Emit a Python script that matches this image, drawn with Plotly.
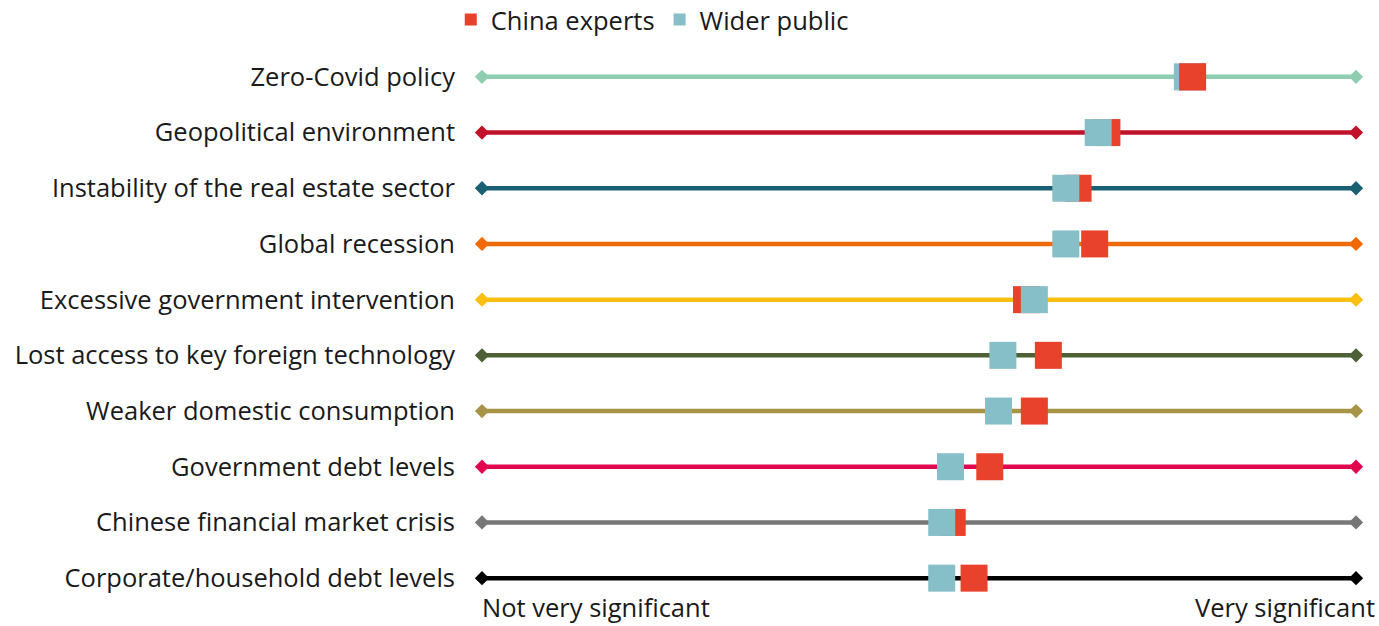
import plotly.graph_objects as go

categories = [
    "Zero-Covid policy",
    "Geopolitical environment",
    "Instability of the real estate sector",
    "Global recession",
    "Excessive government intervention",
    "Lost access to key foreign technology",
    "Weaker domestic consumption",
    "Government debt levels",
    "Chinese financial market crisis",
    "Corporate/household debt levels",
]
line_colors = ["#8fcdb0", "#c0132a", "#1a6073", "#f06a0c", "#fbbf10",
               "#4e6136", "#a89447", "#e0074f", "#777777", "#000000"]
china_experts = [0.813, 0.715, 0.682, 0.701, 0.623, 0.648, 0.632, 0.581, 0.538, 0.563]
wider_public = [0.807, 0.705, 0.668, 0.668, 0.632, 0.596, 0.591, 0.536, 0.526, 0.526]
# rows where the expert marker is drawn over the public marker
experts_on_top = ["Zero-Covid policy"]
scale_min, scale_max = 0.0, 1.0
scale_labels = ["Not very significant", "Very significant"]

RED = "#e8412c"
TEAL = "#86bfc8"
FONT = "Open Sans"
FS = 25.5

fig = go.Figure()

for cat, col in zip(categories, line_colors):
    fig.add_trace(go.Scatter(
        x=[scale_min, scale_max], y=[cat, cat], mode="lines+markers",
        line=dict(color=col, width=4.5),
        marker=dict(symbol="diamond", size=11, color=col),
        showlegend=False, hoverinfo="skip"))

fig.add_trace(go.Scatter(x=china_experts, y=categories, mode="markers",
                         marker=dict(symbol="square", size=27, color=RED),
                         name="China experts", showlegend=False))
fig.add_trace(go.Scatter(x=wider_public, y=categories, mode="markers",
                         marker=dict(symbol="square", size=27, color=TEAL),
                         name="Wider public", showlegend=False))
top_idx = [i for i, c in enumerate(categories) if c in experts_on_top]
fig.add_trace(go.Scatter(x=[china_experts[i] for i in top_idx],
                         y=[categories[i] for i in top_idx], mode="markers",
                         marker=dict(symbol="square", size=27, color=RED),
                         name="China experts", showlegend=False))

# legend entries
fig.add_trace(go.Scatter(x=[None], y=[None], mode="markers",
                         marker=dict(symbol="square", size=12, color=RED),
                         name="China experts"))
fig.add_trace(go.Scatter(x=[None], y=[None], mode="markers",
                         marker=dict(symbol="square", size=12, color=TEAL),
                         name="Wider public"))

fig.add_annotation(x=scale_min, y=-0.034, xref="x", yref="paper", text=scale_labels[0],
                   showarrow=False, xanchor="left", yanchor="bottom", xshift=-1,
                   borderpad=0, font=dict(size=FS, color="#1a1a1a", family=FONT))
fig.add_annotation(x=scale_max, y=-0.034, xref="x", yref="paper", text=scale_labels[1],
                   showarrow=False, xanchor="right", yanchor="bottom", xshift=20,
                   borderpad=0, font=dict(size=FS, color="#1a1a1a", family=FONT))

fig.update_layout(
    width=1379, height=626,
    margin=dict(l=470, r=11, t=49, b=20, autoexpand=False),
    paper_bgcolor="white", plot_bgcolor="white",
    font=dict(family=FONT, size=FS, color="#1a1a1a"),
    showlegend=True,
    legend=dict(orientation="h", x=0.473, xref="container", xanchor="center",
                y=0.968, yref="container", yanchor="middle",
                font=dict(size=FS, family=FONT), itemwidth=30,
                tracegroupgap=0, bgcolor="rgba(0,0,0,0)"),
    xaxis=dict(range=[-0.01373, 1.01373], showgrid=False, zeroline=False,
               showticklabels=False, showline=False, fixedrange=True),
    yaxis=dict(type="category", categoryorder="array", categoryarray=categories,
               range=[len(categories) - 0.5, -0.5], showgrid=False, zeroline=False,
               showline=False, ticks="", ticklabelstandoff=14, fixedrange=True,
               tickfont=dict(size=FS, family=FONT, color="#1a1a1a")),
)

fig.write_html("out.html", config={"displayModeBar": False},
               post_script="document.body.style.margin='0';document.body.style.overflow='hidden';")
